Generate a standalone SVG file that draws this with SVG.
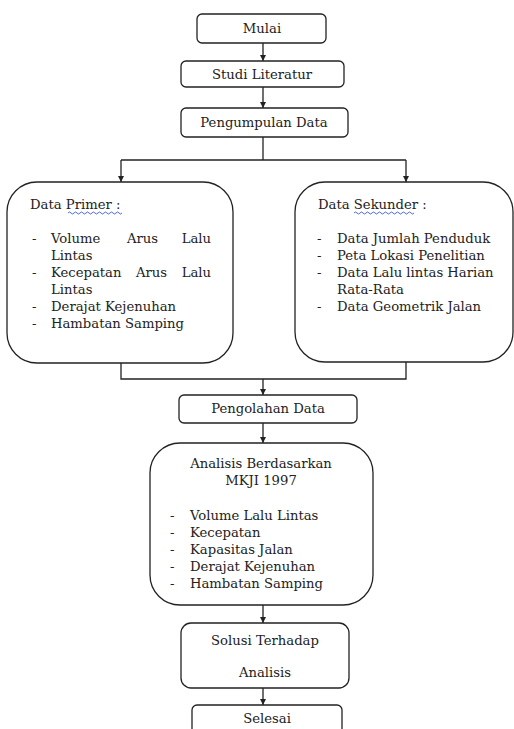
<svg xmlns="http://www.w3.org/2000/svg" width="514" height="729" viewBox="0 0 514 729">
<defs>
<style>
.box{fill:#fff;stroke:#222;stroke-width:1.3}
.t{font-family:"DejaVu Serif","Liberation Serif",serif;font-size:13.2px;fill:#222}
.c{text-anchor:middle}
.e{text-anchor:end}
.ln{fill:none;stroke:#222;stroke-width:1.3}
.sq{fill:none;stroke:#3a5ad0;stroke-width:0.9}
</style>
<marker id="ah" viewBox="0 0 10 10" refX="10" refY="5" markerWidth="6" markerHeight="6" markerUnits="userSpaceOnUse" orient="auto">
<path d="M0,0 L10,5 L0,10 z" fill="#222"/>
</marker>
</defs>
<rect width="514" height="729" fill="#fff"/>
<g id="connectors">
<line class="ln" x1="263" y1="43" x2="263" y2="61" marker-end="url(#ah)"/>
<line class="ln" x1="263" y1="87" x2="263" y2="108" marker-end="url(#ah)"/>
<polyline class="ln" points="263,137 263,160"/>
<line class="ln" x1="121" y1="160" x2="406" y2="160"/>
<line class="ln" x1="121" y1="160" x2="121" y2="182" marker-end="url(#ah)"/>
<line class="ln" x1="406" y1="160" x2="406" y2="182" marker-end="url(#ah)"/>
<polyline class="ln" points="121,363 121,379 406,379 406,362"/>
<line class="ln" x1="263" y1="379" x2="263" y2="395" marker-end="url(#ah)"/>
<line class="ln" x1="263" y1="423" x2="263" y2="443" marker-end="url(#ah)"/>
<line class="ln" x1="263" y1="605" x2="263" y2="623" marker-end="url(#ah)"/>
<line class="ln" x1="263" y1="688" x2="263" y2="705" marker-end="url(#ah)"/>
</g>
<g id="mulai">
<rect class="box" x="197" y="14" width="129" height="29" rx="5"/>
<text class="t c" x="262" y="33">Mulai</text>
</g>
<g id="studi">
<rect class="box" x="181" y="61" width="163" height="26" rx="5"/>
<text class="t c" x="262" y="79">Studi Literatur</text>
</g>
<g id="pengumpulan">
<rect class="box" x="181" y="108" width="167" height="29" rx="5"/>
<text class="t c" x="264" y="127">Pengumpulan Data</text>
</g>
<g id="primer">
<rect class="box" x="7" y="182" width="226" height="181" rx="30"/>
<text class="t" x="30" y="209">Data Primer :</text>
<path class="sq" d="M68,213 q1.5,-2 3,0 t3,0 t3,0 t3,0 t3,0 t3,0 t3,0 t3,0 t3,0 t3,0 t3,0 t3,0 t3,0 t3,0 t3,0 t3,0 t3,0 t3,0"/>
<text class="t" x="32" y="243">-</text>
<text class="t" x="51" y="243">Volume</text>
<text class="t" x="127" y="243">Arus</text>
<text class="t e" x="211" y="243">Lalu</text>
<text class="t" x="51" y="260">Lintas</text>
<text class="t" x="32" y="277">-</text>
<text class="t" x="51" y="277">Kecepatan</text>
<text class="t" x="136" y="277">Arus</text>
<text class="t e" x="211" y="277">Lalu</text>
<text class="t" x="51" y="294">Lintas</text>
<text class="t" x="32" y="311">-</text>
<text class="t" x="51" y="311">Derajat Kejenuhan</text>
<text class="t" x="32" y="328">-</text>
<text class="t" x="51" y="328">Hambatan Samping</text>
</g>
<g id="sekunder">
<rect class="box" x="295" y="182" width="218" height="180" rx="30"/>
<text class="t" x="318" y="209">Data Sekunder :</text>
<path class="sq" d="M354,213 q1.5,-2 3,0 t3,0 t3,0 t3,0 t3,0 t3,0 t3,0 t3,0 t3,0 t3,0 t3,0 t3,0 t3,0 t3,0 t3,0 t3,0 t3,0 t3,0 t3,0 t3,0"/>
<text class="t" x="317" y="243">-</text>
<text class="t" x="337" y="243">Data Jumlah Penduduk</text>
<text class="t" x="317" y="260">-</text>
<text class="t" x="337" y="260">Peta Lokasi Penelitian</text>
<text class="t" x="317" y="277">-</text>
<text class="t" x="337" y="277">Data Lalu lintas Harian</text>
<text class="t" x="337" y="294">Rata-Rata</text>
<text class="t" x="317" y="311">-</text>
<text class="t" x="337" y="311">Data Geometrik Jalan</text>
</g>
<g id="pengolahan">
<rect class="box" x="179" y="395" width="178" height="28" rx="5"/>
<text class="t c" x="268" y="413">Pengolahan Data</text>
</g>
<g id="analisis">
<rect class="box" x="150" y="443" width="223" height="162" rx="30"/>
<text class="t c" x="261" y="468">Analisis Berdasarkan</text>
<text class="t c" x="261" y="485">MKJI 1997</text>
<text class="t" x="170" y="520">-</text>
<text class="t" x="190" y="520">Volume Lalu Lintas</text>
<text class="t" x="170" y="537">-</text>
<text class="t" x="190" y="537">Kecepatan</text>
<text class="t" x="170" y="554">-</text>
<text class="t" x="190" y="554">Kapasitas Jalan</text>
<text class="t" x="170" y="571">-</text>
<text class="t" x="190" y="571">Derajat Kejenuhan</text>
<text class="t" x="170" y="588">-</text>
<text class="t" x="190" y="588">Hambatan Samping</text>
</g>
<g id="solusi">
<rect class="box" x="181" y="623" width="168" height="65" rx="10"/>
<text class="t c" x="265" y="645">Solusi Terhadap</text>
<text class="t c" x="265" y="677">Analisis</text>
</g>
<g id="selesai">
<rect class="box" x="192" y="705" width="150" height="40" rx="5"/>
<text class="t c" x="267" y="723">Selesai</text>
</g>
</svg>
